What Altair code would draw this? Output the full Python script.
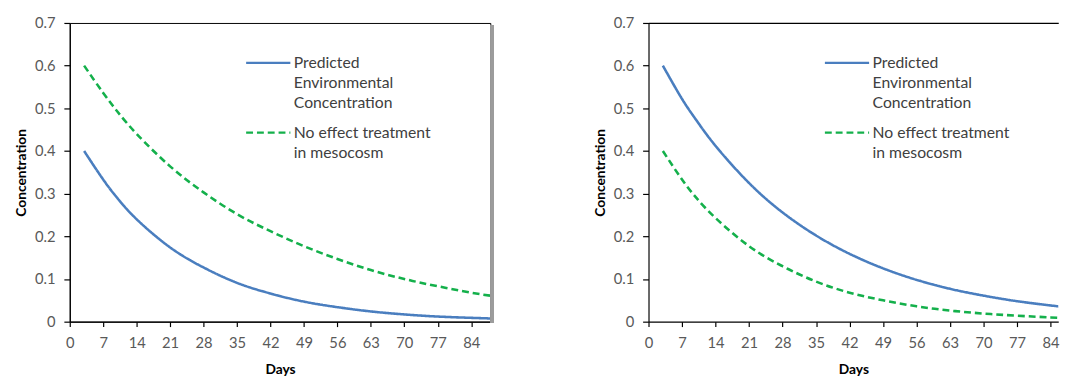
import altair as alt
import pandas as pd

# ---- data ----
days = [3, 7, 10, 14, 21, 28, 35, 42, 49, 56, 63, 70, 77, 84, 88]

left_pec = [0.400, 0.333, 0.289, 0.240, 0.174, 0.127, 0.091, 0.066, 0.047, 0.034, 0.024, 0.017, 0.012, 0.009, 0.0075]
left_noeffect = [0.600, 0.536, 0.492, 0.440, 0.364, 0.303, 0.252, 0.212, 0.177, 0.147, 0.121, 0.100, 0.083, 0.068, 0.061]

right_pec = [0.600, 0.522, 0.472, 0.412, 0.325, 0.256, 0.202, 0.159, 0.125, 0.098, 0.077, 0.061, 0.048, 0.038, 0.033]
right_noeffect = [0.400, 0.333, 0.290, 0.243, 0.177, 0.130, 0.094, 0.068, 0.050, 0.036, 0.026, 0.019, 0.014, 0.010, 0.0085]

series_names = ["Predicted Environmental Concentration", "No effect treatment in mesocosm"]
series_colors = ["#4A7EBF", "#14B04B"]
series_dashes = [[1, 0], [7, 4]]

x_ticks = [0, 7, 14, 21, 28, 35, 42, 49, 56, 63, 70, 77, 84]
y_ticks = [0, 0.1, 0.2, 0.3, 0.4, 0.5, 0.6, 0.7]

FONT = "Lato"


def make_df(pec, noeff):
    rows = []
    for d, v in zip(days, pec):
        rows.append({"day": d, "value": v, "series": series_names[0]})
    for d, v in zip(days, noeff):
        rows.append({"day": d, "value": v, "series": series_names[1]})
    return pd.DataFrame(rows)


label_expr = (
    "datum.label == 'Predicted Environmental Concentration' ? "
    "['Predicted', 'Environmental', 'Concentration'] : "
    "['No effect treatment', 'in mesocosm']"
)

legend = alt.Legend(
    title=None,
    orient="none",
    legendX=176,
    legendY=38,
    padding=0,
    symbolType="M-1,-1.2H9",
    symbolSize=81,
    symbolStrokeWidth=2.5,
    labelFont=FONT,
    labelFontSize=16,
    labelColor="#404040",
    labelLimit=400,
    labelBaseline="alphabetic",
    labelExpr=label_expr,
    labelOffset=36,
    rowPadding=14,
)


def panel(df, xmax, width, left_panel):
    x_scale = alt.Scale(domain=[0, xmax], nice=False, zero=False)
    y_scale = alt.Scale(domain=[0, 0.7], nice=False)
    base = alt.Chart(df)
    lines = base.mark_line(strokeWidth=2.6, interpolate="natural", clip=True).encode(
        x=alt.X(
            "day:Q",
            scale=x_scale,
            axis=alt.Axis(
                values=x_ticks,
                title="Days",
                labelOverlap=False,
                labelFlush=False,
                tickSize=5,
                labelPadding=9,
                titlePadding=13,
            ),
        ),
        y=alt.Y(
            "value:Q",
            scale=y_scale,
            axis=alt.Axis(
                values=y_ticks,
                title="Concentration",
                labelExpr="datum.value == 0 ? '0' : format(datum.value, '.1f')",
                labelOverlap=False,
                tickSize=6,
                labelPadding=9,
                titlePadding=6,
            ),
        ),
        color=alt.Color(
            "series:N",
            scale=alt.Scale(domain=series_names, range=series_colors),
            sort=series_names,
            legend=legend,
        ),
        strokeDash=alt.StrokeDash(
            "series:N",
            scale=alt.Scale(domain=series_names, range=series_dashes),
            sort=series_names,
            legend=legend,
        ),
    )
    if left_panel:
        shadow = base.mark_rule(color="#9c9c9c", strokeWidth=3).encode(
            x=alt.value(width + 2), y=alt.value(2), y2=alt.value(305)
        )
        return alt.layer(lines, shadow).properties(width=width, height=304)
    top = base.mark_point(opacity=0).encode(
        x=alt.X(
            "day:Q",
            scale=x_scale,
            axis=alt.Axis(orient="top", labels=False, ticks=False, title=None, domainColor="black"),
        )
    )
    return (
        alt.layer(lines, top)
        .resolve_axis(x="independent")
        .properties(width=width, height=304, view=alt.ViewBackground(stroke="transparent"))
    )


left = panel(make_df(left_pec, left_noeffect), 88, 428, True)
right = panel(make_df(right_pec, right_noeffect), 85.6, 417, False)

chart = (
    alt.hconcat(left, right, spacing=100)
    .resolve_scale(color="independent", strokeDash="independent")
    .resolve_legend(color="independent", strokeDash="independent")
    .properties(padding={"left": 14, "top": 12, "right": 0, "bottom": 0}, background="white")
    .configure(style={"guide-label": {"lineHeight": 20.5}})
    .configure_view(stroke="black", strokeWidth=1)
    .configure_axis(
        grid=False,
        domainColor="black",
        domainWidth=1.2,
        tickColor="black",
        tickWidth=1.2,
        labelFont=FONT,
        labelFontSize=15,
        labelColor="#595959",
        titleFont=FONT,
        titleFontSize=14,
        titleFontWeight="bold",
        titleColor="black",
    )
)

chart.save("out.html", embed_options={"renderer": "svg", "actions": False})
